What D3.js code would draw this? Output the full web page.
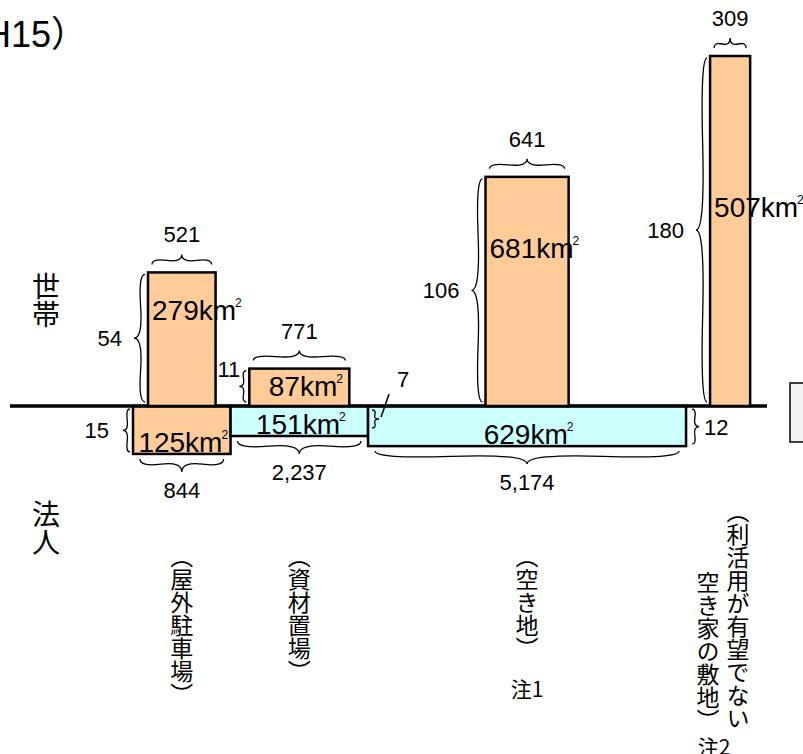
<!DOCTYPE html>
<html>
<head>
<meta charset="utf-8">
<script src="https://cdn.jsdelivr.net/npm/d3@7"></script>
<style>
  body { margin: 0; background: #fff; }
  svg { display: block; }
  .num { font-family: "Liberation Sans", Arial, sans-serif; font-size: 22px; fill: #000; }
  .area { font-family: "Liberation Sans", Arial, sans-serif; font-size: 28px; fill: #000; }
  .jp { font-family: "Noto Sans CJK JP", sans-serif; fill: #000; }
  .brace { fill: none; stroke: #000; stroke-width: 1.3; }
</style>
</head>
<body>
<div class="chart"></div>
<script>
// data
var categories = ["屋外駐車場", "資材置場", "空き地", "利活用が有望でない空き家の敷地"];
var houseCount = [521, 771, 641, 309];       // 世帯 (width)
var housePerUnit = [54, 11, 106, 180];       // 世帯 (height)
var houseArea = [279, 87, 681, 507];         // km2
var corpCount = [844, 2237, 5174, null];     // 法人 (width)
var corpPerUnit = [15, 7, 12, null];         // 法人 (height)
var corpArea = [125, 151, 629, null];        // km2
var notes = ["", "", "注1", "注2"];
var title = "H15）";

var svgWidth = 803;
var svgHeight = 754;
var baseY = 406;
var startX = 133;
var minBarH = 30;   // keep room for the area label

var svg = d3.select(".chart")
  .append("svg")
  .attr("width", svgWidth)
  .attr("height", svgHeight);

var orange = "#FFCC99";
var cyan = "#CCFFFF";

// schematic scales
var yScale = d3.scalePow().exponent(0.8).domain([0, 180]).range([0, 350]);
var houseW = d3.scaleLinear().domain([0, 771]).range([0, 100]);
var corpW = d3.scaleLinear().domain([0, 5174]).range([0, 318]);
var corpFill = d3.scaleOrdinal().domain(categories).range([orange, cyan, cyan, cyan]);

function barH(v) { return Math.max(yScale(v), minBarH); }

// column layout
var cursor = startX;
var cols = categories.map(function(c, i) {
  var hw = houseW(houseCount[i]);
  var hasCorp = corpCount[i] != null;
  var pad = hasCorp ? 15 : 24;
  var cw = hasCorp ? Math.max(corpW(corpCount[i]), hw + 2 * pad) : hw + 2 * pad;
  var col = {
    i: i, name: c, x: cursor, w: cw,
    hx: cursor + (cw - hw) / 2, hw: hw,
    hTop: baseY - barH(housePerUnit[i]),
    hasCorp: hasCorp,
    cBottom: hasCorp ? baseY + barH(corpPerUnit[i]) : baseY
  };
  cursor += cw;
  return col;
});

function curlyBrace(x1, y1, x2, y2, w, q) {
  var dx = x1 - x2, dy = y1 - y2;
  var len = Math.sqrt(dx * dx + dy * dy);
  dx = dx / len; dy = dy / len;
  var qx1 = x1 + q * w * dy, qy1 = y1 - q * w * dx;
  var qx2 = (x1 - .25 * len * dx) + (1 - q) * w * dy, qy2 = (y1 - .25 * len * dy) - (1 - q) * w * dx;
  var tx1 = (x1 - .5 * len * dx) + w * dy, ty1 = (y1 - .5 * len * dy) - w * dx;
  var qx3 = x2 + q * w * dy, qy3 = y2 - q * w * dx;
  var qx4 = (x1 - .75 * len * dx) + (1 - q) * w * dy, qy4 = (y1 - .75 * len * dy) - (1 - q) * w * dx;
  return "M" + x1 + "," + y1 + " Q" + qx1 + "," + qy1 + " " + qx2 + "," + qy2 + " T" + tx1 + "," + ty1 +
    " M" + x2 + "," + y2 + " Q" + qx3 + "," + qy3 + " " + qx4 + "," + qy4 + " T" + tx1 + "," + ty1;
}

var chart = svg.append("g");

// corporate bars (below)
var corpCols = cols.filter(function(d) { return d.hasCorp; });
chart.selectAll(".corp-bar")
  .data(corpCols)
  .enter()
  .append("rect")
  .attr("class", "corp-bar")
  .attr("x", function(d) { return d.x; })
  .attr("y", baseY)
  .attr("width", function(d) { return d.w; })
  .attr("height", function(d) { return d.cBottom - baseY; })
  .attr("fill", function(d) { return corpFill(d.name); })
  .attr("stroke", "#000")
  .attr("stroke-width", 2.5);

// baseline
chart.append("line")
  .attr("x1", 10).attr("x2", 767)
  .attr("y1", baseY).attr("y2", baseY)
  .attr("stroke", "#000")
  .attr("stroke-width", 3.5);

// household bars (above)
chart.selectAll(".house-bar")
  .data(cols)
  .enter()
  .append("rect")
  .attr("class", "house-bar")
  .attr("x", function(d) { return d.hx; })
  .attr("y", function(d) { return d.hTop; })
  .attr("width", function(d) { return d.hw; })
  .attr("height", function(d) { return baseY - d.hTop; })
  .attr("fill", orange)
  .attr("stroke", "#000")
  .attr("stroke-width", 2.5);

// top braces + household counts
cols.forEach(function(d) {
  var by = d.hTop - 8;
  chart.append("path").attr("class", "brace")
    .attr("d", curlyBrace(d.hx + d.hw - 4, by, d.hx + 4, by, 10, 0.6));
  chart.append("text").attr("class", "num")
    .attr("x", d.hx + d.hw / 2)
    .attr("y", d.hTop - 30)
    .attr("text-anchor", "middle")
    .text(d3.format(",")(houseCount[d.i]));
});

// left braces + household per-unit values
cols.forEach(function(d) {
  var bx = d.hx - 3;
  var y1 = d.hTop + 2, y2 = baseY - 4;
  var short = baseY - d.hTop < 60;
  var w = short ? 7 : 11;
  chart.append("path").attr("class", "brace")
    .attr("d", curlyBrace(bx, y1, bx, y2, w, 0.6));
  var t = chart.append("text").attr("class", "num")
    .attr("text-anchor", "end")
    .text(housePerUnit[d.i]);
  if (short) {
    t.attr("x", bx - w + 1).attr("y", d.hTop + 8);
  } else {
    t.attr("x", bx - w - 12).attr("y", (y1 + y2) / 2 + 8);
  }
});

// bottom braces + corporate counts
corpCols.forEach(function(d) {
  var by = d.cBottom + 5;
  chart.append("path").attr("class", "brace")
    .attr("d", curlyBrace(d.x + 7, by, d.x + d.w - 7, by, 13, 0.6));
  chart.append("text").attr("class", "num")
    .attr("x", d.x + d.w / 2)
    .attr("y", by + 13 + 26)
    .attr("text-anchor", "middle")
    .text(d3.format(",")(corpCount[d.i]));
});

// side braces + corporate per-unit values
var corpBraceSide = ["left", "leader", "right"];
corpCols.forEach(function(d, k) {
  var side = corpBraceSide[k];
  var y1 = baseY + 3, y2 = d.cBottom - 2;
  var mid = (y1 + y2) / 2;
  if (side === "left") {
    var bx = d.x - 3;
    chart.append("path").attr("class", "brace")
      .attr("d", curlyBrace(bx, y1, bx, y2, 7, 0.6));
    chart.append("text").attr("class", "num")
      .attr("x", bx - 7 - 14).attr("y", mid + 8)
      .attr("text-anchor", "end")
      .text(corpPerUnit[d.i]);
  } else if (side === "right") {
    var rx = d.x + d.w + 6;
    chart.append("path").attr("class", "brace")
      .attr("d", curlyBrace(rx, y2, rx, y1, 7, 0.6));
    chart.append("text").attr("class", "num")
      .attr("x", rx + 7 + 5).attr("y", mid + 8)
      .text(corpPerUnit[d.i]);
  } else {
    // no room: brace drawn just past the right edge with a leader line
    var lx = d.x + d.w + 4;
    var ly1 = baseY + 4, ly2 = baseY + 22;
    var lm = (ly1 + ly2) / 2;
    chart.append("path").attr("class", "brace")
      .attr("d", curlyBrace(lx, ly2, lx, ly1, 7, 0.6));
    chart.append("line")
      .attr("x1", lx + 9).attr("y1", lm - 2)
      .attr("x2", lx + 17).attr("y2", lm - 25)
      .attr("stroke", "#000").attr("stroke-width", 1.5);
    chart.append("text").attr("class", "num")
      .attr("x", lx + 25).attr("y", lm - 32)
      .attr("text-anchor", "start")
      .text(corpPerUnit[d.i]);
  }
});

// area labels
function areaLabel(x, y, value) {
  var t = chart.append("text").attr("class", "area")
    .attr("x", x).attr("y", y)
    .attr("text-anchor", "start");
  t.append("tspan").text(value + "km");
  t.append("tspan").attr("font-size", 12).attr("dy", -13).attr("dx", -1).text("2");
  return t;
}

var houseLabelFrac = [0.28, 0.46, 0.31, 0.43];
cols.forEach(function(d) {
  var h = baseY - d.hTop;
  var t = areaLabel(0, d.hTop + h * houseLabelFrac[d.i] + 10, houseArea[d.i]);
  var tw = t.node().getComputedTextLength();
  var x = Math.max(d.hx + d.hw / 2 + 7 - tw / 2, d.hx + 4);
  t.attr("x", x);
});

corpCols.forEach(function(d) {
  var t = areaLabel(0, d.cBottom - 2, corpArea[d.i]);
  var tw = t.node().getComputedTextLength();
  t.attr("x", d.x + d.w / 2 + 2 - tw / 2);
});

// category labels (vertical)
var vlabels = chart.append("g").attr("class", "jp").style("font-size", "23px");
cols.forEach(function(d) {
  var cx = d.hasCorp ? d.x + d.w / 2 : d.hx + d.hw / 2;
  if (d.hasCorp) {
    vlabels.append("text")
      .attr("x", cx).attr("y", 545)
      .style("writing-mode", "vertical-rl")
      .text("（" + d.name + "）");
  } else {
    var split = d.name.indexOf("い") + 1;
    vlabels.append("text")
      .attr("x", cx + 8).attr("y", 730)
      .attr("text-anchor", "end")
      .style("writing-mode", "vertical-rl")
      .text("（" + d.name.slice(0, split));
    vlabels.append("text")
      .attr("x", cx - 22).attr("y", 732)
      .attr("text-anchor", "end")
      .style("writing-mode", "vertical-rl")
      .text(d.name.slice(split) + "）");
  }
  if (notes[d.i]) {
    vlabels.append("text")
      .attr("x", d.hasCorp ? cx : cx - 16)
      .attr("y", d.hasCorp ? 697 : 755)
      .attr("text-anchor", "middle")
      .style("font-size", "21px")
      .text(notes[d.i]);
  }
});

// side titles
chart.append("text").attr("class", "jp")
  .attr("x", 46).attr("y", 272)
  .style("font-size", "28px")
  .style("writing-mode", "vertical-rl")
  .text("世帯");
chart.append("text").attr("class", "jp")
  .attr("x", 46).attr("y", 500)
  .style("font-size", "28px")
  .style("writing-mode", "vertical-rl")
  .text("法人");

// title (cut off on the left)
chart.append("text")
  .attr("x", -15).attr("y", 47)
  .style("font-family", "'Liberation Sans', 'Noto Sans CJK JP', sans-serif")
  .style("font-size", "36px")
  .text(title);

// legend box cut off on the right
chart.append("rect")
  .attr("x", 790).attr("y", 383)
  .attr("width", 40).attr("height", 59)
  .attr("fill", "#f2f2f2")
  .attr("stroke", "#000")
  .attr("stroke-width", 1.5);
</script>
</body>
</html>
